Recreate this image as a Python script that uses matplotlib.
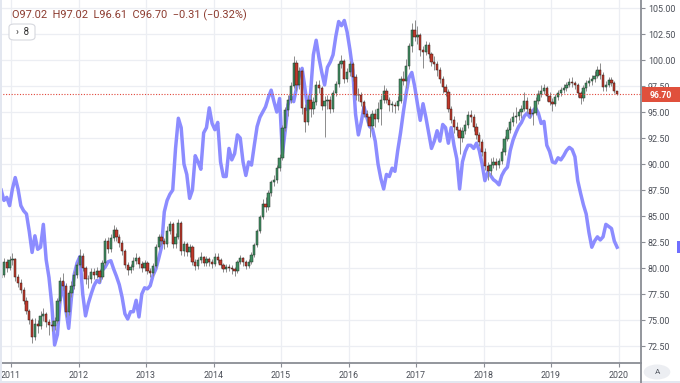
import matplotlib
matplotlib.use('Agg')
import matplotlib.pyplot as plt
import matplotlib.transforms as mtransforms
from matplotlib.patches import Rectangle, Circle, FancyBboxPatch
from matplotlib.lines import Line2D
import numpy as np

plt.rcParams['font.family'] = ['Roboto', 'DejaVu Sans']

# ---------------- data (semi-monthly candles, Nov 2010 .. Dec 2019) ----------------
first_open = 79.0
closes = [
    79.3, 80.6, 80.0, 80.8, 80.9, 79.1, 78.6, 77.9, 76.8, 75.9,
    75.0, 73.4, 74.6, 74.4, 75.4, 75.6, 74.8, 74.5, 74.4, 74.9,
    76.8, 78.8, 78.3, 75.8, 77.6, 78.3, 79.3, 80.3, 81.2, 80.0,
    78.9, 78.9, 79.6, 79.3, 79.7, 79.1, 80.5, 82.6, 81.8, 82.9,
    83.7, 83.0, 82.4, 81.6, 80.3, 79.8, 80.1, 80.7, 81.0, 80.4,
    80.0, 80.5, 79.7, 79.5, 80.2, 82.0, 83.0, 82.6, 82.3, 83.6,
    84.2, 82.3, 83.0, 84.3, 81.6, 82.3, 81.5, 82.0, 80.6, 80.2,
    80.8, 81.1, 80.5, 80.9, 80.6, 80.4, 81.1, 80.8, 80.3, 79.9,
    80.1, 80.0, 79.9, 79.7, 80.6, 81.0, 80.6, 80.2, 80.6, 81.3,
    82.2, 83.6, 84.9, 86.2, 85.9, 87.2, 88.3, 88.5, 89.6, 90.6,
    93.5, 95.2, 96.2, 97.5, 99.7, 97.6, 98.9, 95.4, 94.0, 96.2,
    95.3, 96.0, 97.6, 97.3, 95.6, 96.1, 96.2, 95.3, 96.8, 97.7,
    99.6, 99.9, 98.2, 98.8, 99.6, 98.4, 96.6, 96.6, 96.0, 94.8,
    94.5, 93.7, 94.8, 94.3, 95.3, 96.2, 97.0, 96.2, 95.7, 95.7,
    95.6, 96.1, 98.2, 98.0, 99.4, 101.3, 102.9, 102.2, 102.4, 101.0,
    100.8, 101.4, 100.6, 99.8, 99.6, 99.0, 98.2, 97.4, 96.9, 95.3,
    94.2, 93.6, 93.3, 92.5, 93.2, 93.8, 94.7, 94.5, 93.6, 92.8,
    92.1, 91.2, 89.8, 89.3, 89.9, 90.2, 89.9, 90.3, 91.2, 92.4,
    93.3, 94.0, 94.5, 94.6, 95.0, 95.3, 96.1, 95.3, 94.8, 94.9,
    96.1, 96.7, 97.0, 97.3, 96.5, 96.0, 95.8, 96.4, 96.8, 97.1,
    97.3, 97.6, 97.9, 97.8, 97.6, 96.8, 96.3, 97.3, 97.8, 98.0,
    98.2, 98.5, 99.0, 98.6, 97.4, 97.6, 98.1, 97.8, 97.02, 96.70,
]
highs = [
    79.8, 81.0, 80.9, 81.2, 81.4, 81.0, 79.4, 78.9, 78.2, 77.2,
    76.1, 75.2, 75.2, 75.0, 75.9, 76.2, 75.8, 75.1, 75.0, 75.3,
    77.1, 79.1, 79.5, 78.6, 77.9, 78.8, 79.7, 80.6, 81.8, 81.4,
    80.2, 79.3, 80.0, 80.0, 80.1, 79.9, 80.8, 82.9, 83.0, 83.3,
    84.1, 83.9, 83.3, 82.7, 81.8, 80.6, 80.4, 81.1, 81.4, 81.2,
    80.7, 80.8, 80.7, 80.0, 80.5, 82.3, 83.3, 83.3, 82.9, 84.0,
    84.5, 84.4, 83.4, 84.7, 84.5, 82.6, 82.5, 82.3, 82.2, 80.9,
    81.1, 81.5, 81.2, 81.2, 81.1, 80.9, 81.4, 81.4, 81.0, 80.5,
    80.4, 80.4, 80.3, 80.1, 80.8, 81.3, 81.1, 80.8, 80.9, 81.5,
    82.4, 83.8, 85.1, 86.6, 86.8, 87.5, 88.5, 88.9, 89.9, 91.0,
    93.8, 95.5, 96.6, 97.9, 100.4, 100.0, 99.3, 99.1, 95.8, 96.6,
    96.7, 96.4, 98.0, 98.1, 97.5, 96.5, 96.6, 96.5, 97.1, 98.0,
    99.9, 100.5, 100.1, 99.2, 99.9, 99.8, 98.7, 97.3, 96.9, 96.2,
    95.2, 94.8, 95.2, 95.3, 96.0, 96.6, 97.6, 97.3, 96.4, 96.1,
    96.0, 96.5, 98.5, 98.9, 100.1, 101.6, 103.6, 103.8, 103.3, 102.6,
    101.3, 101.8, 101.7, 100.8, 100.4, 99.9, 99.3, 98.5, 97.7, 97.2,
    95.6, 94.6, 94.0, 93.6, 93.6, 94.2, 95.1, 95.2, 94.8, 93.9,
    93.1, 92.4, 91.5, 90.2, 90.6, 90.7, 90.6, 90.6, 91.5, 92.7,
    93.6, 94.4, 95.0, 95.5, 95.3, 95.7, 96.9, 96.4, 95.6, 95.3,
    96.4, 97.1, 97.6, 97.7, 97.5, 96.9, 96.3, 96.7, 97.1, 97.4,
    97.7, 97.9, 98.3, 98.4, 98.0, 97.8, 97.0, 97.6, 98.1, 98.4,
    98.6, 98.9, 99.4, 99.7, 98.8, 98.0, 98.4, 98.4, 98.0, 97.02,
]
lows = [
    78.5, 79.1, 79.6, 79.8, 80.3, 78.8, 78.2, 77.6, 76.5, 75.6,
    74.6, 72.8, 73.1, 73.8, 74.1, 74.9, 74.3, 73.6, 73.9, 74.0,
    74.7, 76.6, 77.9, 75.3, 75.5, 77.2, 78.0, 79.0, 80.1, 79.7,
    78.5, 78.1, 78.6, 78.9, 79.0, 78.7, 78.9, 80.3, 81.4, 81.5,
    82.6, 82.6, 82.0, 81.3, 80.0, 79.3, 79.5, 79.8, 80.4, 80.0,
    79.6, 79.7, 79.4, 79.1, 79.2, 80.0, 81.8, 82.2, 81.8, 82.0,
    83.3, 81.9, 81.9, 82.8, 81.3, 81.2, 81.2, 81.1, 80.3, 79.8,
    79.9, 80.5, 80.2, 80.2, 80.2, 80.0, 80.2, 80.5, 80.0, 79.6,
    79.6, 79.7, 79.4, 79.2, 79.5, 80.4, 80.2, 79.9, 80.0, 80.4,
    81.1, 82.0, 83.4, 84.7, 85.4, 85.6, 86.9, 87.9, 88.2, 89.3,
    90.4, 93.2, 94.6, 95.9, 97.3, 97.0, 97.2, 94.8, 93.1, 93.8,
    94.5, 94.8, 95.7, 96.8, 95.2, 92.6, 95.3, 94.9, 95.0, 96.5,
    97.4, 99.2, 97.8, 97.9, 98.5, 98.0, 96.2, 96.1, 95.6, 94.5,
    93.9, 92.6, 93.4, 93.6, 94.0, 93.8, 95.9, 95.9, 95.1, 95.0,
    94.9, 95.2, 95.9, 97.6, 97.3, 99.1, 100.8, 101.8, 101.5, 100.4,
    99.2, 100.5, 100.2, 99.4, 99.0, 98.5, 97.8, 96.8, 96.5, 95.0,
    93.9, 93.0, 92.7, 91.0, 92.1, 92.9, 93.5, 94.0, 93.2, 92.4,
    91.7, 90.8, 89.4, 88.5, 88.9, 89.6, 89.4, 89.6, 90.0, 90.9,
    92.2, 93.0, 93.7, 93.9, 94.2, 94.4, 95.1, 94.9, 94.4, 93.8,
    94.7, 95.8, 96.4, 96.7, 96.1, 95.7, 95.1, 95.6, 96.2, 96.5,
    96.8, 97.0, 97.4, 97.4, 97.2, 96.4, 95.8, 96.1, 97.0, 97.5,
    97.6, 97.9, 98.3, 98.2, 97.0, 97.0, 97.4, 97.5, 96.8, 96.61,
]
overlay = [
    87.5, 86.5, 86.8, 86.0, 87.6, 88.7, 87.6, 86.0, 85.5, 85.2,
    83.5, 81.5, 83.1, 81.8, 82.0, 84.2, 80.8, 79.1, 76.5, 72.6,
    73.6, 77.0, 78.6, 76.0, 74.2, 77.2, 79.4, 80.5, 81.1, 77.5,
    75.4, 76.6, 77.5, 78.3, 78.8, 78.6, 79.8, 80.1, 80.6, 80.7,
    79.9, 79.2, 78.4, 77.2, 75.6, 75.1, 75.8, 75.8, 76.9, 75.3,
    77.5, 78.1, 78.0, 78.3, 79.3, 79.9, 80.9, 82.0, 85.4, 86.5,
    87.1, 87.5, 91.5, 94.4, 93.5, 90.0, 89.0, 86.7, 87.5, 90.8,
    90.2, 89.5, 93.0, 93.5, 95.4, 93.9, 93.3, 94.0, 90.2, 88.8,
    88.8, 91.5, 90.4, 91.0, 92.8, 92.5, 90.2, 88.9, 90.2, 89.9,
    91.8, 93.6, 94.5, 95.0, 95.5, 96.4, 97.1, 96.0, 95.0, 96.3,
    91.0, 93.2, 95.7, 96.5, 96.0, 97.3, 98.5, 99.2, 97.3, 95.2,
    96.8, 100.5, 101.9, 100.2, 98.8, 97.6, 99.3, 99.8, 100.5, 102.3,
    103.7, 103.3, 103.8, 102.7, 101.0, 99.0, 94.8, 92.8, 94.0, 95.5,
    94.5, 93.6, 93.4, 92.2, 90.0, 88.6, 87.6, 89.0, 88.8, 89.6,
    89.3, 91.3, 93.0, 95.0, 96.8, 98.3, 98.8, 97.5, 95.8, 94.2,
    95.8, 94.5, 93.0, 91.5, 92.2, 93.2, 92.2, 93.8, 93.5, 92.0,
    93.5, 91.8, 90.5, 87.6, 90.2, 91.2, 91.8, 91.8, 91.5, 92.0,
    91.3, 90.0, 88.4, 89.2, 88.9, 88.5, 88.3, 88.0, 88.9, 89.4,
    89.7, 91.3, 92.3, 93.0, 93.6, 94.0, 94.6, 94.9, 94.5, 95.1,
    95.4, 94.9, 93.9, 94.1, 91.8, 91.2, 90.2, 90.1, 90.6, 90.4,
    90.8, 91.3, 91.6, 91.4, 90.7, 88.4, 87.2, 86.1, 85.2, 83.4,
    82.0, 82.6, 83.0, 82.7, 83.0, 84.2, 84.0, 83.8, 82.6, 82.0,
]
year_ticks = [2011, 2012, 2013, 2014, 2015, 2016, 2017, 2018, 2019, 2020]
price_ticks = [72.5, 75.0, 77.5, 80.0, 82.5, 85.0, 87.5, 90.0, 92.5, 95.0,
               97.5, 100.0, 102.5, 105.0]
last_price = 96.70
header_text = "O97.02  H97.02  L96.61  C96.70  \u22120.31 (\u22120.32%)"

# ---------------- figure ----------------
W, H = 680, 383
fig = plt.figure(figsize=(W / 100, H / 100), dpi=100)
fig.patch.set_facecolor('white')
ax = fig.add_axes([0, 20 / H, 641 / W, 363 / H])

n = len(closes)
t = 2010 + 10 / 12 + (np.arange(n) + 0.5) / 24   # mid-point of each half month
opens = np.array([first_open] + closes[:-1])
c = np.array(closes)
up = c >= opens

ax.set_xlim(2010.837, 2020.333)
ax.set_ylim(70.87, 105.77)

# grid
for yv in price_ticks:
    ax.axhline(yv, color='#eceef3', lw=0.9, zorder=0)
for xv in year_ticks:
    ax.axvline(xv, color='#eceef3', lw=0.9, zorder=0)

# overlay line
ax.plot(t, overlay, color='#8c8cff', lw=2.5, zorder=2, solid_joinstyle='round')

# candles
ax.vlines(t, lows, highs, color='#8c8c8c', lw=0.7, zorder=3)
body_h = c - opens
body_h = np.where(np.abs(body_h) < 0.08, 0.08, body_h)
ax.bar(t[up], body_h[up], bottom=opens[up], width=0.034, color='#3f8f62',
       edgecolor='#243026', linewidth=0.35, zorder=4)
ax.bar(t[~up], body_h[~up], bottom=opens[~up], width=0.034, color='#c0392b',
       edgecolor='#2e1a17', linewidth=0.35, zorder=4)

# last price dotted line
ax.axhline(last_price, color='#e0463a', lw=0.8, ls=(0, (1, 1.5)), zorder=5)

# axes styling
for s in ['left', 'top']:
    ax.spines[s].set_visible(False)
ax.spines['right'].set_color('#8a8d94')
ax.spines['right'].set_linewidth(1.3)
ax.spines['bottom'].set_color('#8a8d94')
ax.spines['bottom'].set_linewidth(1.3)
ax.yaxis.tick_right()
ax.set_yticks(price_ticks)
ax.set_yticklabels([f"{v:.2f}" for v in price_ticks])
ax.set_xticks(year_ticks)
ax.set_xticklabels([str(y) for y in year_ticks])
ax.tick_params(axis='y', length=3, width=0.8, color='#8a8d94', labelsize=6.4,
               labelcolor='#4a4e57', pad=2)
ax.tick_params(axis='x', length=3, width=0.8, color='#8a8d94', labelsize=6.4,
               labelcolor='#4a4e57', pad=3)

# header legend
ax.text(12 / 641, 1 - 15 / 363, header_text, transform=ax.transAxes,
        fontsize=7.9, color='#8c3b2f', ha='left', va='center', zorder=10)

# collapsed-indicators button
fig.add_artist(FancyBboxPatch((9 / W, 1 - 40 / H), 26 / W, 16 / H,
                              boxstyle='round,pad=0,rounding_size=0.008',
                              transform=fig.transFigure, facecolor='white',
                              edgecolor='#d6d8de', lw=0.8, zorder=9))
fig.text(22 / W, 1 - 32 / H, "\u203a  8", fontsize=7.0, color='#333333',
         ha='center', va='center', zorder=10)

# last price tag on the axis
blend = mtransforms.blended_transform_factory(fig.transFigure, ax.transData)
fig.add_artist(Rectangle((642 / W, last_price - 0.70), 38 / W, 1.40,
                         transform=blend, facecolor='#e0503c', edgecolor='none',
                         clip_on=False, zorder=10))
fig.text(661 / W, last_price - 0.12, f"{last_price:.2f}", transform=blend,
         fontsize=6.2, color='white', ha='center', va='center',
         fontweight='bold', zorder=11)

# overlay marker at right edge
fig.add_artist(Rectangle((677 / W, overlay[-1] - 0.6), 3 / W, 1.2, transform=blend,
                         facecolor='#6f6fff', edgecolor='none', clip_on=False))

# separator below plot and auto-scale button
fig.add_artist(Line2D([641 / W, 641 / W], [0, 20 / H], transform=fig.transFigure,
                      color='#8a8d94', lw=1.3))
fig.add_artist(Circle((657 / W, 11 / H), 7.5 / H, transform=fig.transFigure,
                      facecolor='#eceef2', edgecolor='none'))
fig.text(657 / W, 11 / H, "A", fontsize=5.8, color='#555a63', ha='center', va='center')

# screenshot border
fig.add_artist(Rectangle((0, 0), 2 / W, 1, transform=fig.transFigure,
                         facecolor='#e3e7f0', edgecolor='none'))
fig.add_artist(Rectangle((0, 0), 1, 2 / H, transform=fig.transFigure,
                         facecolor='#e3e7f0', edgecolor='none'))

fig.savefig('out.png', dpi=100, facecolor='white')
